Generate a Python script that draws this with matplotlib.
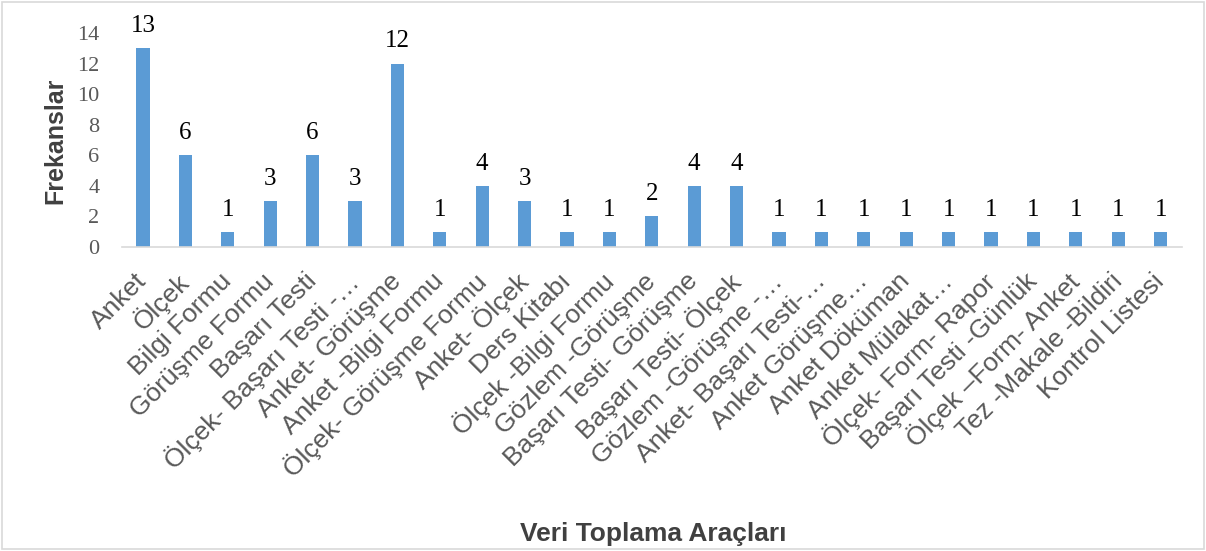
import matplotlib
matplotlib.use("Agg")
import matplotlib.pyplot as plt
from matplotlib.patches import Rectangle

categories = [
    "Anket", "Ölçek", "Bilgi Formu", "Görüşme Formu", "Başarı Testi",
    "Ölçek- Başarı Testi -…", "Anket- Görüşme", "Anket -Bilgi Formu",
    "Ölçek- Görüşme Formu", "Anket- Ölçek", "Ders Kitabı", "Ölçek -Bilgi Formu",
    "Gözlem -Görüşme", "Başarı Testi- Görüşme", "Başarı Testi- Ölçek",
    "Gözlem -Görüşme -…", "Anket- Başarı Testi-…", "Anket Görüşme…",
    "Anket Döküman", "Anket Mülakat…", "Ölçek- Form- Rapor",
    "Başarı Testi -Günlük", "Ölçek –Form- Anket", "Tez -Makale -Bildiri",
    "Kontrol Listesi",
]
values = [13, 6, 1, 3, 6, 3, 12, 1, 4, 3, 1, 1, 2, 4, 4, 1, 1, 1, 1, 1, 1, 1, 1, 1, 1]
yticks = [0, 2, 4, 6, 8, 10, 12, 14]

fig = plt.figure(figsize=(12.06, 5.51), dpi=100)
ax = fig.add_axes([0.101, 0.5517, 0.879, 0.3885])

x = list(range(len(categories)))
ax.bar(x, values, width=0.31, color="#5B9BD5", zorder=2)

ax.set_xlim(-0.5, len(categories) - 0.5)
ax.set_ylim(0, 14)
ax.set_yticks(yticks)
ax.set_yticklabels([str(t) for t in yticks], fontfamily="Liberation Serif",
                   fontsize=16, color="#595959")
ax.set_xticks(x)
ax.set_xticklabels(categories, rotation=45, ha="right", va="center",
                   rotation_mode="anchor", fontfamily="Liberation Sans",
                   fontsize=19, color="#595959")
ax.tick_params(axis="both", length=0)
ax.tick_params(axis="x", pad=22)
ax.tick_params(axis="y", pad=16)

for s in ["top", "right", "left"]:
    ax.spines[s].set_visible(False)
ax.spines["bottom"].set_color("#d9d9d9")
ax.spines["bottom"].set_linewidth(1.2)

for xi, v in zip(x, values):
    ax.annotate(str(v), (xi, v), xytext=(0, 8), textcoords="offset points",
                ha="center", va="bottom", fontfamily="Liberation Serif",
                fontsize=18, color="black")

fig.text(0.046, 0.745, "Frekanslar", rotation=90, ha="center", va="center",
         fontfamily="Liberation Sans", fontweight="bold", fontsize=18,
         color="#404040")
fig.text(0.542, 0.03, "Veri Toplama Araçları", ha="center", va="center",
         fontfamily="Liberation Sans", fontweight="bold", fontsize=19,
         color="#404040")

fig.patches.append(Rectangle((0.002, 0.003), 0.996, 0.994, transform=fig.transFigure,
                             fill=False, edgecolor="#d9d9d9", linewidth=1.2))

fig.savefig("out.png", dpi=100)
